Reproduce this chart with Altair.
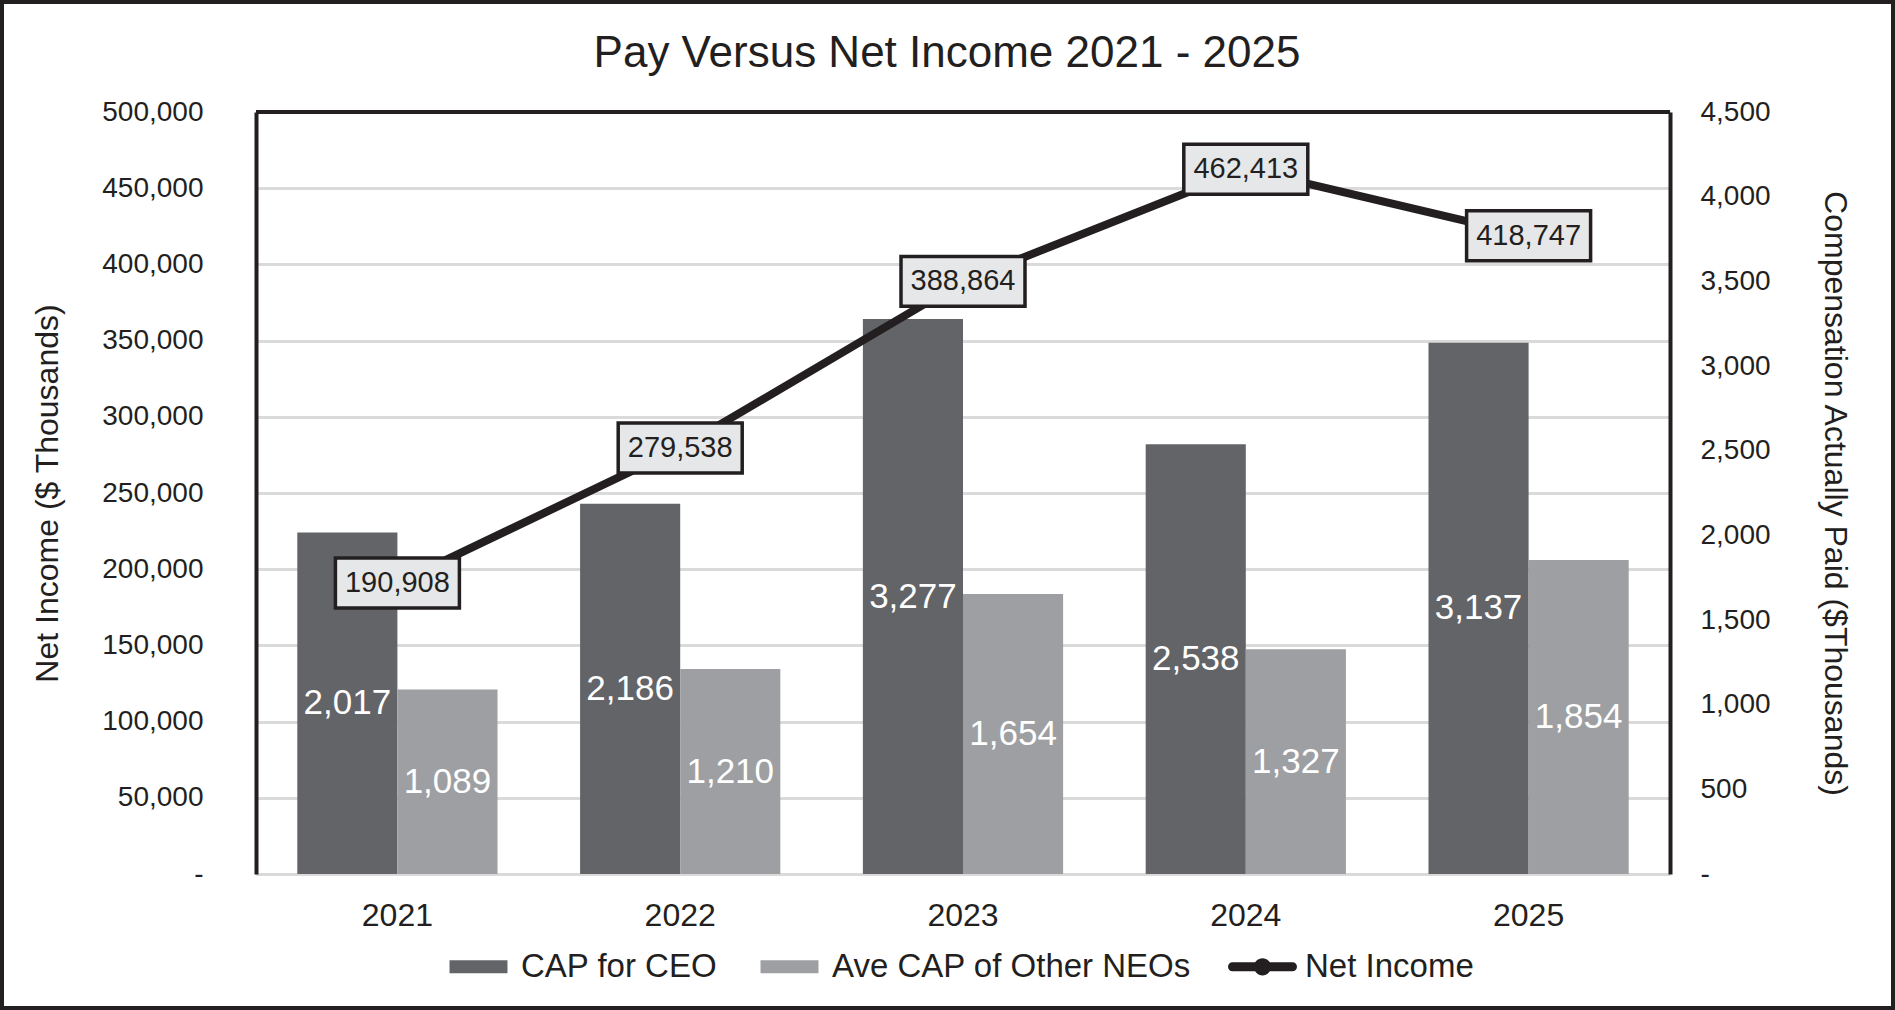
import altair as alt
import pandas as pd

# ---------------- data ----------------
years = ["2021", "2022", "2023", "2024", "2025"]
cap_ceo = [2017, 2186, 3277, 2538, 3137]
cap_neo = [1089, 1210, 1654, 1327, 1854]
net_income = [190908, 279538, 388864, 462413, 418747]
series_names = ["CAP for CEO", "Ave CAP of Other NEOs", "Net Income"]
series_colors = ["#636467", "#9e9fa2", "#231f20"]
left_ticks = list(range(0, 500001, 50000))
right_ticks = list(range(0, 4501, 500))

FONT = "Liberation Sans"
TXT = "#231f20"
GRID = "#dadada"

W, H = 1414, 762
PAD = {"left": 256, "top": 112, "right": 1895 - 256 - W, "bottom": 1010 - 112 - H}

bars_df = pd.DataFrame({
    "year": years * 2,
    "series": [series_names[0]] * 5 + [series_names[1]] * 5,
    "value": cap_ceo + cap_neo,
    "hex": [series_colors[0]] * 5 + [series_colors[1]] * 5,
})
net_df = pd.DataFrame({"year": years, "net": net_income})
legend_df = pd.DataFrame({"series": series_names})
one_df = pd.DataFrame({"k": [0]})

zero_dash = "datum.value == 0 ? '-' : format(datum.value, ',')"

x_axis = alt.Axis(title=None, labelAngle=0, labelFontSize=32, labelPadding=26,
                  ticks=False, domain=True, domainColor=GRID, domainWidth=3,
                  labelColor=TXT, labelFont=FONT, grid=False)
x_scale = alt.Scale(paddingInner=0.292, paddingOuter=0.146)
x_enc = alt.X("year:N", sort=years, scale=x_scale, axis=x_axis)
xoff = alt.XOffset("series:N", sort=series_names[:2],
                   scale=alt.Scale(paddingInner=0, paddingOuter=0))

right_scale = alt.Scale(domain=[0, 4500], nice=False)
left_scale = alt.Scale(domain=[0, 500000], nice=False)

right_axis = alt.Axis(orient="right", values=right_ticks, labelExpr=zero_dash,
                      title="Compensation Actually Paid ($Thousands)",
                      titleAngle=90, titleFontSize=32, titleFont=FONT,
                      titleFontWeight="normal", titleColor=TXT, titlePadding=47,
                      labelFontSize=28, labelFont=FONT, labelColor=TXT,
                      labelPadding=30, ticks=False, grid=False,
                      domain=True, domainColor=TXT, domainWidth=4)
left_axis = alt.Axis(orient="left", values=left_ticks, labelExpr=zero_dash,
                     title="Net Income ($ Thousands)",
                     titleAngle=-90, titleFontSize=32, titleFont=FONT,
                     titleFontWeight="normal", titleColor=TXT, titlePadding=37,
                     labelFontSize=28, labelFont=FONT, labelColor=TXT,
                     labelPadding=53, ticks=False,
                     grid=True, gridColor=GRID, gridWidth=3,
                     domain=True, domainColor=TXT, domainWidth=4)

# ---------- bars (right axis) ----------
bars = alt.Chart(bars_df).mark_bar().encode(
    x=x_enc,
    xOffset=xoff,
    y=alt.Y("value:Q", scale=right_scale, axis=right_axis),
    color=alt.Color("hex:N", scale=None),
)
bar_text = alt.Chart(bars_df).mark_text(
    color="white", fontSize=35, font=FONT, baseline="middle", align="center"
).transform_calculate(value="datum.value / 2", label="format(datum.value * 2, ',')").encode(
    x=x_enc,
    xOffset=xoff,
    y=alt.Y("value:Q", scale=right_scale, axis=right_axis),
    text=alt.Text("label:N"),
)
bars_layer = alt.layer(bars, bar_text)

# ---------- net income line (left axis) ----------
line = alt.Chart(net_df).mark_line(color=TXT, strokeWidth=8).encode(
    x=x_enc,
    y=alt.Y("net:Q", scale=left_scale, axis=left_axis),
)
top_rule = alt.Chart(net_df).mark_rule(color=TXT, strokeWidth=4).encode(
    y=alt.Y("max(net):Q", scale=left_scale, axis=left_axis),
).transform_calculate(net="500000")
box_path = "M-1,-0.403L1,-0.403L1,0.403L-1,0.403Z"
boxes = alt.Chart(net_df).mark_point(
    shape=box_path, size=124 * 124, filled=True, fill="#e6e7e8",
    stroke=TXT, strokeWidth=3.5, opacity=1
).encode(
    x=x_enc,
    y=alt.Y("net:Q", scale=left_scale, axis=left_axis),
)
box_text = alt.Chart(net_df).mark_text(
    color=TXT, fontSize=29, font=FONT, baseline="middle", align="center"
).encode(
    x=x_enc,
    y=alt.Y("net:Q", scale=left_scale, axis=left_axis),
    text=alt.Text("net:Q", format=","),
)

rect_sym = "M-0.84,-0.19L0.84,-0.19L0.84,0.19L-0.84,0.19Z"
line_sym = ("M-0.87,-0.13L0.87,-0.13A0.13,0.13,0,0,1,0.87,0.13L-0.87,0.13"
            "A0.13,0.13,0,0,1,-0.87,-0.13Z"
            "M-0.25,0A0.25,0.25,0,1,1,0.25,0A0.25,0.25,0,1,1,-0.25,0Z")
legend_def = alt.Legend(title=None, orient="none", direction="horizontal",
                        legendX=188, legendY=820)
legend_pts = alt.Chart(legend_df).mark_point(filled=True, opacity=1).transform_filter(
    "false"
).encode(
    color=alt.Color("series:N", sort=series_names,
                    scale=alt.Scale(domain=series_names, range=series_colors),
                    legend=legend_def),
    shape=alt.Shape("series:N", sort=series_names,
                    scale=alt.Scale(domain=series_names, range=[rect_sym, rect_sym, line_sym]),
                    legend=legend_def),
)

frame = alt.Chart(one_df).mark_rect(
    fillOpacity=0, stroke=TXT, strokeWidth=4
).encode(
    x=alt.value(-PAD["left"] + 2), x2=alt.value(W + PAD["right"] - 2),
    y=alt.value(-PAD["top"] + 2), y2=alt.value(H + PAD["bottom"] - 2),
)

line_layer = alt.layer(line, top_rule, boxes, box_text, legend_pts, frame)

chart = alt.layer(bars_layer, line_layer).resolve_scale(
    y="independent"
).properties(
    width=W, height=H,
    title=alt.TitleParams("Pay Versus Net Income 2021 - 2025", fontSize=44, font=FONT,
                          color=TXT, fontWeight="normal", anchor="middle",
                          frame="group", dx=-16, offset=-76),
    autosize=alt.AutoSizeParams(type="none"),
    padding=PAD,
    background="white",
).configure_view(
    stroke=None
).configure_legend(
    labelFontSize=33, labelFont=FONT, labelColor=TXT, symbolSize=4761,
    symbolStrokeWidth=0, labelOffset=8, columnPadding=37,
    symbolOpacity=1, labelLimit=600,
)

chart.save("out.html", embed_options={"renderer": "svg", "actions": False})
